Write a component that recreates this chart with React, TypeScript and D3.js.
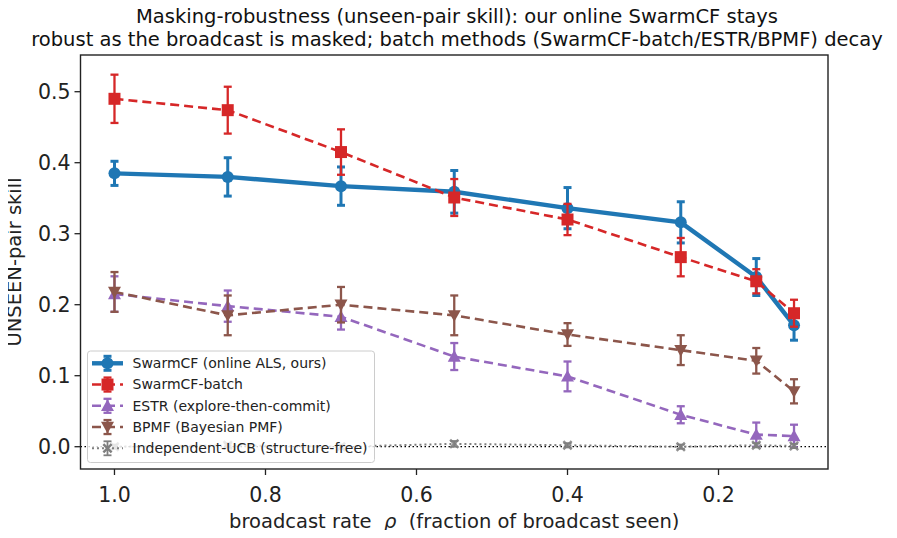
import React, { useEffect, useRef } from "react";
import * as d3 from "d3";

const rho = [1.0, 0.85, 0.7, 0.55, 0.4, 0.25, 0.15, 0.1];

const swarmMean = [0.385, 0.38, 0.367, 0.359, 0.336, 0.316, 0.239, 0.171];
const swarmErr = [0.017, 0.027, 0.027, 0.03, 0.029, 0.029, 0.026, 0.021];
const batchMean = [0.49, 0.474, 0.415, 0.351, 0.32, 0.267, 0.233, 0.188];
const batchErr = [0.034, 0.033, 0.032, 0.026, 0.022, 0.027, 0.017, 0.019];
const estrMean = [0.215, 0.198, 0.183, 0.127, 0.099, 0.045, 0.017, 0.015];
const estrErr = [0.025, 0.022, 0.018, 0.019, 0.021, 0.012, 0.017, 0.016];
const bpmfMean = [0.218, 0.185, 0.2, 0.185, 0.158, 0.136, 0.121, 0.078];
const bpmfErr = [0.028, 0.028, 0.025, 0.028, 0.016, 0.021, 0.018, 0.017];
const ucbMean = [0.0, 0.002, 0.0, 0.004, 0.002, 0.0, 0.002, 0.001];
const ucbErr = [0.003, 0.003, 0.003, 0.004, 0.003, 0.003, 0.003, 0.003];

const yTicks = [0.0, 0.1, 0.2, 0.3, 0.4, 0.5];
const xTicks = [1.0, 0.8, 0.6, 0.4, 0.2];

type Series = {
  label: string;
  mean: number[];
  err: number[];
  color: string;
  marker: string;
  dash: string | null;
  lw: number;
  elw: number;
  ms: number;
};

const series: Series[] = [
  { label: "SwarmCF (online ALS, ours)", mean: swarmMean, err: swarmErr, color: "#1f77b4", marker: "circle", dash: null, lw: 4.4, elw: 3, ms: 12 },
  { label: "SwarmCF-batch", mean: batchMean, err: batchErr, color: "#d62728", marker: "square", dash: "9,5", lw: 2.6, elw: 2.3, ms: 12 },
  { label: "ESTR (explore-then-commit)", mean: estrMean, err: estrErr, color: "#9467bd", marker: "up", dash: "9,5", lw: 2.6, elw: 2.3, ms: 13 },
  { label: "BPMF (Bayesian PMF)", mean: bpmfMean, err: bpmfErr, color: "#8c564b", marker: "down", dash: "9,5", lw: 2.6, elw: 2.3, ms: 13 },
  { label: "Independent-UCB (structure-free)", mean: ucbMean, err: ucbErr, color: "#7f7f7f", marker: "x", dash: "2,3", lw: 2, elw: 1.8, ms: 10 },
];

const W = 897;
const H = 538;
const left = 80.5;
const right = 828;
const top = 55;
const bottom = 469;
const FONT = "DejaVu Sans, sans-serif";

function markerPath(kind: string, s: number): string {
  const h = s / 2;
  if (kind === "circle") return d3.symbol(d3.symbolCircle, Math.PI * h * h)() as string;
  if (kind === "square") return `M${-h},${-h}H${h}V${h}H${-h}Z`;
  if (kind === "up") return `M0,${-h}L${h},${h * 0.8}L${-h},${h * 0.8}Z`;
  if (kind === "down") return `M0,${h}L${h},${-h * 0.8}L${-h},${-h * 0.8}Z`;
  const a = h, b = h * 0.35;
  return `M${-a},${-a + b}L${-a + b},${-a}L0,${-b}L${a - b},${-a}L${a},${-a + b}L${b},0L${a},${a - b}L${a - b},${a}L0,${b}L${-a + b},${a}L${-a},${a - b}L${-b},0Z`;
}

const App: React.FC = () => {
  const svgRef = useRef<SVGSVGElement | null>(null);

  useEffect(() => {
    const svg = d3.select(svgRef.current);
    svg.selectAll("*").remove();

    const x = d3.scaleLinear().domain([1.045, 0.055]).range([left, right]);
    const y = d3.scaleLinear().domain([-0.0314, 0.5517]).range([bottom, top]);

    svg.append("rect").attr("width", W).attr("height", H).attr("fill", "#fff");

    // zero reference line
    svg
      .append("line")
      .attr("x1", left)
      .attr("x2", right)
      .attr("y1", y(0))
      .attr("y2", y(0))
      .attr("stroke", "#000")
      .attr("stroke-width", 1.3)
      .attr("stroke-dasharray", "1.5,2.5");

    const plot = svg.append("g");

    series.forEach((s) => {
      const g = plot.append("g");
      const line = d3
        .line<number>()
        .x((_, i) => x(rho[i]))
        .y((d) => y(d));
      g.append("path")
        .attr("d", line(s.mean) as string)
        .attr("fill", "none")
        .attr("stroke", s.color)
        .attr("stroke-width", s.lw)
        .attr("stroke-dasharray", s.dash ?? null);

      s.mean.forEach((m, i) => {
        const cx = x(rho[i]);
        const y0 = y(m - s.err[i]);
        const y1 = y(m + s.err[i]);
        g.append("line").attr("x1", cx).attr("x2", cx).attr("y1", y0).attr("y2", y1)
          .attr("stroke", s.color).attr("stroke-width", s.elw);
        [y0, y1].forEach((yy) =>
          g.append("line").attr("x1", cx - 4).attr("x2", cx + 4).attr("y1", yy).attr("y2", yy)
            .attr("stroke", s.color).attr("stroke-width", s.elw)
        );
        g.append("path")
          .attr("d", markerPath(s.marker, s.ms))
          .attr("transform", `translate(${cx},${y(m)})`)
          .attr("fill", s.color)
          .attr("opacity", s.marker === "x" ? 0.85 : 1);
      });
    });

    // axes frame
    svg.append("rect")
      .attr("x", left).attr("y", top).attr("width", right - left).attr("height", bottom - top)
      .attr("fill", "none").attr("stroke", "#222").attr("stroke-width", 1.4);

    const xAxis = svg.append("g").attr("transform", `translate(0,${bottom})`);
    xTicks.forEach((t) => {
      xAxis.append("line").attr("x1", x(t)).attr("x2", x(t)).attr("y1", 0).attr("y2", 6)
        .attr("stroke", "#222").attr("stroke-width", 1.3);
      xAxis.append("text").attr("x", x(t)).attr("y", 32.5).attr("text-anchor", "middle")
        .attr("font-family", FONT).attr("font-size", 20.5).attr("fill", "#222")
        .text(d3.format(".1f")(t));
    });

    const yAxis = svg.append("g").attr("transform", `translate(${left},0)`);
    yTicks.forEach((t) => {
      yAxis.append("line").attr("x1", -6).attr("x2", 0).attr("y1", y(t)).attr("y2", y(t))
        .attr("stroke", "#222").attr("stroke-width", 1.3);
      yAxis.append("text").attr("x", -10).attr("y", y(t)).attr("dy", "0.36em").attr("text-anchor", "end")
        .attr("font-family", FONT).attr("font-size", 20.5).attr("fill", "#222")
        .text(d3.format(".1f")(t));
    });

    svg.append("text")
      .attr("transform", `translate(14.5,${(top + bottom) / 2}) rotate(-90)`)
      .attr("text-anchor", "middle").attr("dy", "0.35em")
      .attr("font-family", FONT).attr("font-size", 19.5).attr("fill", "#222")
      .text("UNSEEN-pair skill");

    const xl = svg.append("text")
      .attr("x", (left + right) / 2).attr("y", 528).attr("text-anchor", "middle")
      .attr("font-family", FONT).attr("font-size", 19.5).attr("fill", "#222")
      .style("white-space", "pre");
    xl.append("tspan").text("broadcast rate  ");
    xl.append("tspan").attr("font-style", "italic").text("ρ");
    xl.append("tspan").text("  (fraction of broadcast seen)");

    const titleLines = [
      "Masking-robustness (unseen-pair skill): our online SwarmCF stays",
      "robust as the broadcast is masked; batch methods (SwarmCF-batch/ESTR/BPMF) decay",
    ];
    titleLines.forEach((t, i) =>
      svg.append("text")
        .attr("x", 457).attr("y", 22.5 + i * 23).attr("text-anchor", "middle")
        .attr("font-family", FONT).attr("font-size", 19.5).attr("fill", "#111")
        .text(t)
    );

    // legend
    const lg = svg.append("g");
    lg.append("rect")
      .attr("x", 87.5).attr("y", 351).attr("width", 287).attr("height", 111.5).attr("rx", 3)
      .attr("fill", "#fff").attr("fill-opacity", 0.8).attr("stroke", "#ccc").attr("stroke-width", 1);
    series.forEach((s, i) => {
      const cy = 363.3 + i * 21.25;
      const hx0 = 92, hx1 = 123, hc = 107.5;
      lg.append("line").attr("x1", hx0).attr("x2", hx1).attr("y1", cy).attr("y2", cy)
        .attr("stroke", s.color).attr("stroke-width", s.lw).attr("stroke-dasharray", s.dash ?? null);
      lg.append("line").attr("x1", hc).attr("x2", hc).attr("y1", cy - 7).attr("y2", cy + 7)
        .attr("stroke", s.color).attr("stroke-width", s.elw);
      [cy - 7, cy + 7].forEach((yy) =>
        lg.append("line").attr("x1", hc - 4).attr("x2", hc + 4).attr("y1", yy).attr("y2", yy)
          .attr("stroke", s.color).attr("stroke-width", s.elw)
      );
      lg.append("path").attr("d", markerPath(s.marker, s.ms))
        .attr("transform", `translate(${hc},${cy})`).attr("fill", s.color);
      lg.append("text").attr("x", 132.5).attr("y", cy).attr("dy", "0.35em")
        .attr("font-family", FONT).attr("font-size", 14).attr("fill", "#222")
        .text(s.label);
    });
  }, []);

  return (
    <div style={{ margin: -8 }}>
      <svg ref={svgRef} width={W} height={H} style={{ display: "block" }} />
    </div>
  );
};

export default App;
